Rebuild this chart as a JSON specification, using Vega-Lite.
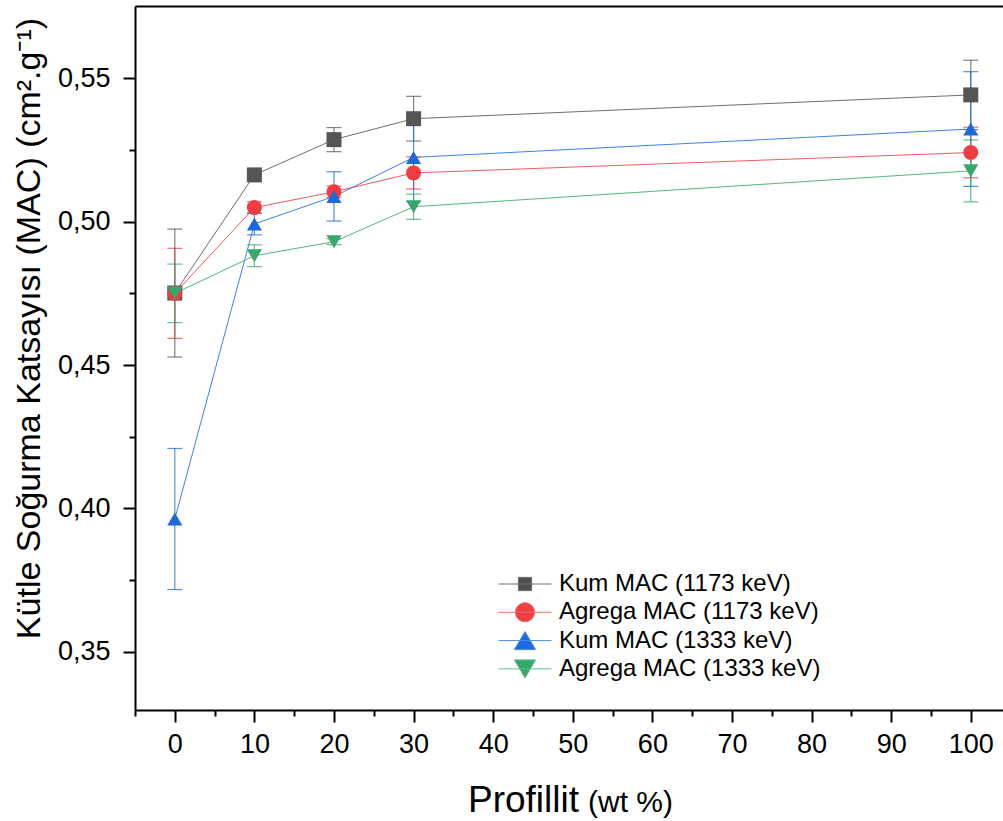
{
  "$schema": "https://vega.github.io/schema/vega-lite/v6.json",
  "autosize": {"type": "none"},
  "padding": {"left": 135, "top": 6, "right": 0, "bottom": 111},
  "width": 868,
  "height": 704,
  "background": "white",
  "data": {
    "values": [
      {"series": "Kum MAC (1173 keV)", "x": 0, "y": 0.4751, "err": 0.0223},
      {"series": "Kum MAC (1173 keV)", "x": 10, "y": 0.5163, "err": 0.0},
      {"series": "Kum MAC (1173 keV)", "x": 20, "y": 0.5286, "err": 0.0042},
      {"series": "Kum MAC (1173 keV)", "x": 30, "y": 0.5359, "err": 0.0078},
      {"series": "Kum MAC (1173 keV)", "x": 100, "y": 0.5442, "err": 0.0121},
      {"series": "Agrega MAC (1173 keV)", "x": 0, "y": 0.4750, "err": 0.0157},
      {"series": "Agrega MAC (1173 keV)", "x": 10, "y": 0.5049, "err": 0.002},
      {"series": "Agrega MAC (1173 keV)", "x": 20, "y": 0.5104, "err": 0.002},
      {"series": "Agrega MAC (1173 keV)", "x": 30, "y": 0.5170, "err": 0.0056},
      {"series": "Agrega MAC (1173 keV)", "x": 100, "y": 0.5241, "err": 0.0088},
      {"series": "Kum MAC (1333 keV)", "x": 0, "y": 0.3963, "err": 0.0246},
      {"series": "Kum MAC (1333 keV)", "x": 10, "y": 0.4992, "err": 0.0038},
      {"series": "Kum MAC (1333 keV)", "x": 20, "y": 0.5088, "err": 0.0086},
      {"series": "Kum MAC (1333 keV)", "x": 30, "y": 0.5224, "err": 0.0155},
      {"series": "Kum MAC (1333 keV)", "x": 100, "y": 0.5323, "err": 0.0200},
      {"series": "Agrega MAC (1333 keV)", "x": 0, "y": 0.4750, "err": 0.0102},
      {"series": "Agrega MAC (1333 keV)", "x": 10, "y": 0.4881, "err": 0.0038},
      {"series": "Agrega MAC (1333 keV)", "x": 20, "y": 0.4930, "err": 0.001},
      {"series": "Agrega MAC (1333 keV)", "x": 30, "y": 0.5052, "err": 0.0044},
      {"series": "Agrega MAC (1333 keV)", "x": 100, "y": 0.5177, "err": 0.0108}
    ]
  },
  "layer": [
    {
      "mark": {"type": "line", "strokeWidth": 1, "opacity": 0.85},
      "encoding": {
        "x": {
          "field": "x", "type": "quantitative",
          "scale": {"domain": [-5, 104.05], "nice": false, "zero": false},
          "axis": {
            "orient": "bottom",
            "values": [0, 10, 20, 30, 40, 50, 60, 70, 80, 90, 100],
            "tickSize": 12, "labelFontSize": 27, "labelPadding": 9,
            "title": "Profillit", "titleFontSize": 37,
            "titleX": 388, "titleY": 101, "titleBaseline": "alphabetic", "titleAlign": "center"
          }
        },
        "y": {
          "field": "y", "type": "quantitative",
          "scale": {"domain": [0.3297, 0.5752], "nice": false, "zero": false},
          "axis": {
            "orient": "left",
            "values": [0.35, 0.40, 0.45, 0.50, 0.55],
            "labelExpr": "replace(format(datum.value, '.2f'), '.', ',')",
            "tickSize": 12, "labelFontSize": 27, "labelPadding": 13,
            "title": "Kütle Soğurma Katsayısı (MAC) (cm².g⁻¹)",
            "titleFontSize": 34, "titleAngle": -90,
            "titleX": -106, "titleY": 322, "titleAlign": "center", "titleBaseline": "middle"
          }
        },
        "color": {
          "field": "series", "type": "nominal", "legend": null,
          "scale": {
            "domain": ["Kum MAC (1173 keV)", "Agrega MAC (1173 keV)", "Kum MAC (1333 keV)", "Agrega MAC (1333 keV)"],
            "range": ["#555555", "#ef3d42", "#1b6bdf", "#37a86b"]
          }
        }
      }
    },
    {
      "mark": {"type": "errorbar", "ticks": {"size": 15, "thickness": 1.2}, "thickness": 1.2, "opacity": 0.75},
      "encoding": {
        "x": {
          "field": "x", "type": "quantitative",
          "scale": {"domain": [-5, 104.05], "nice": false, "zero": false},
          "axis": {
            "orient": "bottom",
            "values": [-5, 5, 15, 25, 35, 45, 55, 65, 75, 85, 95],
            "tickSize": 6, "labels": false, "domain": false,
            "title": "(wt %)", "titleFontSize": 30,
            "titleX": 495, "titleY": 101, "titleBaseline": "alphabetic", "titleAlign": "center"
          }
        },
        "y": {
          "field": "y", "type": "quantitative",
          "scale": {"domain": [0.3297, 0.5752], "nice": false, "zero": false},
          "axis": null
        },
        "yError": {"field": "err"},
        "color": {"field": "series", "type": "nominal", "legend": null}
      }
    },
    {
      "mark": {"type": "point", "filled": true, "opacity": 1},
      "encoding": {
        "x": {
          "field": "x", "type": "quantitative",
          "scale": {"domain": [-5, 104.05], "nice": false, "zero": false},
          "axis": null
        },
        "y": {
          "field": "y", "type": "quantitative",
          "scale": {"domain": [0.3297, 0.5752], "nice": false, "zero": false},
          "axis": null
        },
        "color": {"field": "series", "type": "nominal", "legend": null},
        "shape": {
          "field": "series", "type": "nominal", "legend": null,
          "scale": {
            "domain": ["Kum MAC (1173 keV)", "Agrega MAC (1173 keV)", "Kum MAC (1333 keV)", "Agrega MAC (1333 keV)"],
            "range": ["square", "circle", "triangle-up", "triangle-down"]
          }
        },
        "size": {
          "field": "series", "type": "nominal", "legend": null,
          "scale": {
            "domain": ["Kum MAC (1173 keV)", "Agrega MAC (1173 keV)", "Kum MAC (1333 keV)", "Agrega MAC (1333 keV)"],
            "range": [225, 227, 361, 361]
          }
        }
      }
    },
    {
      "mark": {"type": "point", "filled": true, "opacity": 0, "size": 2809, "strokeWidth": 1},
      "encoding": {
        "x": {
          "field": "x", "type": "quantitative",
          "scale": {"domain": [-5, 104.05], "nice": false, "zero": false},
          "axis": {"orient": "top", "labels": false, "ticks": false, "title": null}
        },
        "y": {
          "field": "y", "type": "quantitative",
          "scale": {"domain": [0.3297, 0.5752], "nice": false, "zero": false},
          "axis": {
            "orient": "left",
            "values": [0.375, 0.425, 0.475, 0.525],
            "tickSize": 6, "labels": false, "domain": false, "title": null
          }
        },
        "fill": {
          "field": "series", "type": "nominal",
          "scale": {
            "domain": ["Kum MAC (1173 keV)", "Agrega MAC (1173 keV)", "Kum MAC (1333 keV)", "Agrega MAC (1333 keV)"],
            "range": ["#4f4f4f", "#ef3d42", "#1b6bdf", "#37a86b"]
          },
          "legend": {"title": null}
        },
        "stroke": {
          "field": "series", "type": "nominal",
          "scale": {
            "domain": ["Kum MAC (1173 keV)", "Agrega MAC (1173 keV)", "Kum MAC (1333 keV)", "Agrega MAC (1333 keV)"],
            "range": ["#707070", "#f06a6a", "#4a8ae6", "#5fbd88"]
          },
          "legend": {"title": null}
        },
        "shape": {
          "field": "series", "type": "nominal",
          "scale": {
            "domain": ["Kum MAC (1173 keV)", "Agrega MAC (1173 keV)", "Kum MAC (1333 keV)", "Agrega MAC (1333 keV)"],
            "range": [
              "M-1,0H1M-0.25,-0.25H0.25V0.25H-0.25Z",
              "M-1,0H1M-0.36,0A0.36,0.36 0 1,0 0.36,0A0.36,0.36 0 1,0 -0.36,0Z",
              "M-1,0H1M0,-0.34L0.4,0.34L-0.4,0.34Z",
              "M-1,0H1M0,0.34L0.4,-0.34L-0.4,-0.34Z"
            ]
          },
          "legend": {
            "title": null,
            "orient": "none",
            "legendX": 363,
            "legendY": 564,
            "padding": 0,
            "symbolSize": 2809,
            "symbolStrokeWidth": 1,
            "symbolOpacity": 1,
            "clipHeight": 28,
            "rowPadding": 0.3,
            "labelOffset": 7,
            "labelFontSize": 24,
            "labelFont": "Liberation Sans",
            "labelColor": "black",
            "labelLimit": 400
          }
        }
      }
    }
  ],
  "resolve": {
    "scale": {"shape": "independent", "size": "independent", "fill": "independent", "stroke": "independent"},
    "axis": {"x": "independent", "y": "independent"}
  },
  "config": {
    "view": {"stroke": null},
    "axis": {
      "domainColor": "black", "domainWidth": 2, "tickColor": "black", "tickWidth": 2,
      "labelFont": "Liberation Sans", "labelColor": "black",
      "titleFont": "Liberation Sans", "titleColor": "black", "titleFontWeight": "normal",
      "grid": false
    }
  }
}
